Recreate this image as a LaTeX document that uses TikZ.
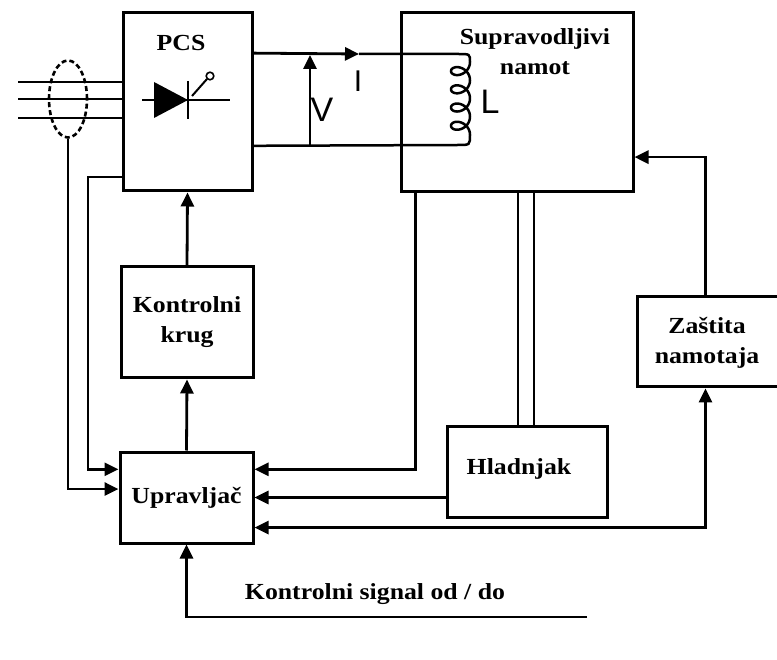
\documentclass[tikz,border=0pt]{standalone}
\usepackage{fontspec}
\setmainfont{Liberation Serif}
\newfontfamily\lab[FakeStretch=1.12]{Liberation Serif}
\newfontfamily\sns{Liberation Sans}
\usetikzlibrary{arrows.meta,shapes.geometric,calc}
\begin{document}
\begin{tikzpicture}[x=1pt,y=-1pt]
\tikzset{
 box/.style={draw, line width=3pt, inner sep=0pt},
 txt/.style={font=\lab\bfseries\fontsize{23}{30}\selectfont, align=center, inner sep=0pt},
 wire/.style={line width=2.8pt},
 tip/.tip={Triangle[length=14pt,width=13pt]},
 arr/.style={wire, -tip},
 arrb/.style={wire, tip-tip},
 sym/.style={font=\sns\fontsize{34}{34}\selectfont, inner sep=0pt},
}
\useasboundingbox (0,0) rectangle (777,660);
\fill[white] (0,0) rectangle (777,660);

% blocks
\node[box, minimum width=129pt, minimum height=178pt] (pcs) at (187.5,102) {};
\node[txt] (pcst) at (181,43) {PCS};
\node[box, minimum width=232pt, minimum height=179pt] (sup) at (517,102.5) {};
\node[txt] (supt) at (535,52) {Supravodljivi\\namot};
\node[box, txt, minimum width=132pt, minimum height=111pt] (kk) at (187,322.5) {Kontrolni\\krug};
\node[box, txt, minimum width=133pt, minimum height=91pt] (upr) at (186.5,497.5) {Upravljač};
\node[box, minimum width=160pt, minimum height=90pt] (hl) at (527,472) {};
\node[txt] (hlt) at (519,469) {Hladnjak};
\node[box, minimum width=170pt, minimum height=90pt] (zas) at (722,342) {};
\node[txt] (zast) at (707,343) {Zaštita\\namotaja};

% three-phase input with dashed current sensor
\node[draw, ellipse, line width=2.6pt, dash pattern=on 5pt off 3pt,
      minimum width=38pt, minimum height=77pt, inner sep=0pt] (ct) at (68,99) {};
\coordinate (a1) at (18,82);
\coordinate (a2) at (18,99);
\coordinate (a3) at (18,118);
\draw[wire] (a1) -- (a1 -| pcs.west);
\draw[wire] (a2) -- (a2 -| pcs.west);
\draw[wire] (a3) -- (a3 -| pcs.west);

% thyristor symbol
\draw[line width=2.2pt] (142,100) -- (230,100);
\fill (154,82) -- (188,100) -- (154,118) -- cycle;
\draw[line width=2.4pt] (188,81) -- (188,119);
\draw[line width=2pt] (192,96) -- (207,79);
\draw[line width=1.6pt, fill=white] (210,76) circle (3.8pt);

% DC wires and coil
\coordinate (w1) at ($(pcs.north east)!0.23!(pcs.south east)$);
\coordinate (w2) at ($(pcs.north east)!0.742!(pcs.south east)$);
\coordinate (itip) at (359,54);
\draw[arr] (w1) -- (itip);
\draw[wire, line width=2.5pt] (itip) -- (458,54) .. controls (470,54) .. (470,62)
  -- plot[domain=0:1440, samples=240, variable=\t] ({460.5+9.5*cos(\t)}, {62+0.0506*\t+8*sin(\t)})
  .. controls (470,145) .. (458,145) -- (w2);
\coordinate (vb) at (310,145);
\coordinate (vt) at (310,55);
\draw[arr] (vb) -- (vt);
\node[sym] (vl) at (322,110) {V};
\node[sym, font=\sns\fontsize{30}{30}\selectfont] (il) at (358,81) {I};
\node[sym] (ll) at (490,102) {L};

% control connections
\draw[arr] (ct.south) |- ($(upr.north west)!0.41!(upr.south west)$);
\coordinate (k1) at (88,177);
\draw[arr] (k1 -| pcs.west) -- (k1) |- ($(upr.north west)!0.2!(upr.south west)$);
\draw[arr] (kk.north) -- (pcs.south);
\draw[arr] (upr.north) -- (kk.south);
\draw[arr] ($(sup.south west)+(16,0)$) |- ($(upr.north east)!0.2!(upr.south east)$);
\draw[arr] (hl.west |- upr.east) -- (upr.east);
\draw[line width=2.4pt] ([xshift=-9pt]hl.north) -- ([xshift=-9pt]hl.north |- sup.south);
\draw[line width=2.4pt] ([xshift=7pt]hl.north) -- ([xshift=7pt]hl.north |- sup.south);
\draw[arr] ($(zas.north west)+(70,0)$) |- ($(sup.north east)!0.8!(sup.south east)$);
\draw[arrb] ($(upr.north east)!0.82!(upr.south east)$) -| ($(zas.south west)+(70,0)$);
\coordinate (s1) at (587,617);
\draw[arr] (s1) -| (upr.south);
\node[txt] (sig) at (375,594) {Kontrolni signal od / do};
\end{tikzpicture}
\end{document}
